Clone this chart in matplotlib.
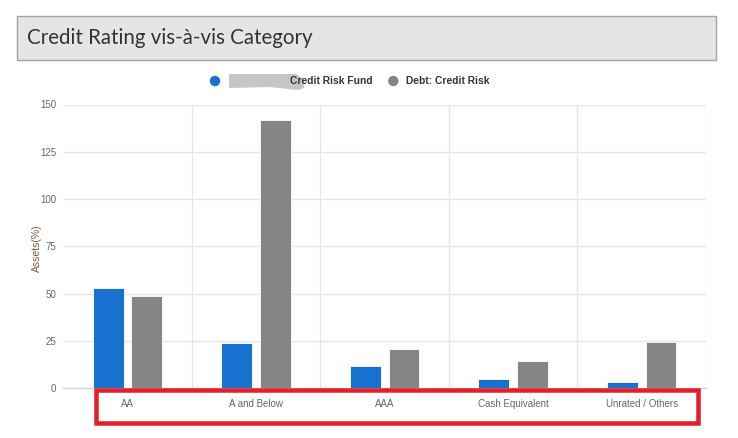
import matplotlib
matplotlib.use("Agg")
import matplotlib.pyplot as plt
from matplotlib.patches import Rectangle, Ellipse, Polygon
import numpy as np

categories = ["AA", "A and Below", "AAA", "Cash Equivalent", "Unrated / Others"]
fund_values = [53.2, 24.1, 11.8, 4.8, 3.2]
category_values = [48.8, 141.7, 20.8, 14.3, 24.6]
series_names = ["Credit Risk Fund", "Debt: Credit Risk"]
y_ticks = [0, 25, 50, 75, 100, 125, 150]
title = "Credit Rating vis-à-vis Category"
y_label = "Assets(%)"

W, H = 738, 438
fig = plt.figure(figsize=(W / 100, H / 100), dpi=100)

def fx(px):
    return px / W

def fy(py):
    return 1 - py / H

# Title box
fig.patches.append(Rectangle((fx(17), fy(59.5)), fx(716) - fx(17), fy(16) - fy(59.5),
                             transform=fig.transFigure, facecolor="#e4e5e7",
                             edgecolor="#a3a3a3", linewidth=1.0, zorder=0))
fig.text(fx(27), fy(38), title, fontsize=14.8, family="Lato", color="#333333",
         va="center", ha="left")

# Axes
left, right, top, bottom = 63.3, 706, 104.5, 388.3
ax = fig.add_axes([fx(left), fy(bottom), fx(right) - fx(left), fy(top) - fy(bottom)])
x = np.arange(len(categories))
bw = 0.24
blue = "#1871d0"
gray = "#858585"
ax.bar(x - 0.15, fund_values, bw, color=blue, edgecolor="white", linewidth=0.6, zorder=3)
ax.bar(x + 0.15, category_values, bw, color=gray, edgecolor="white", linewidth=0.6, zorder=3)
ax.set_xlim(-0.5, len(categories) - 0.5)
ax.set_ylim(0, 150)
ax.set_yticks(y_ticks)
ax.set_yticklabels([str(t) for t in y_ticks], fontsize=7.0, color="#666666", family="Liberation Sans")
ax.set_xticks(x)
ax.set_xticklabels(categories, fontsize=7.0, color="#666666", family="Liberation Sans")
ax.tick_params(axis="x", length=0, pad=8)
ax.tick_params(axis="y", length=0, pad=5)
for yv in y_ticks[1:]:
    ax.axhline(yv, color="#e6e6e6", linewidth=1.0, zorder=1)
for xb in np.arange(0.5, len(categories), 1.0):
    ax.axvline(xb, color="#e6e6e6", linewidth=1.0, zorder=1)
for s in ["top", "left", "right"]:
    ax.spines[s].set_visible(False)
ax.spines["bottom"].set_color("#ccd6eb")
ax.spines["bottom"].set_linewidth(1.0)
ax.set_ylabel(y_label, fontsize=7.5, color="#7a5848", family="Liberation Sans")
ax.yaxis.set_label_coords((42 - left) / (right - left), (bottom - 248) / (bottom - top))

# Legend
r = 5.2
fig.patches.append(Ellipse((fx(215), fy(81)), 2 * r / W, 2 * r / H, transform=fig.transFigure,
                           facecolor=blue, edgecolor="none"))
fig.patches.append(Polygon([(fx(229), fy(74)), (fx(296), fy(74)), (fx(303), fy(79)),
                            (fx(304), fy(88)), (fx(298), fy(90)), (fx(270), fy(87)),
                            (fx(229), fy(88))],
                           closed=True, transform=fig.transFigure, facecolor="#c6c6c6",
                           edgecolor="none"))
fig.text(fx(290), fy(81), series_names[0], fontsize=7.4, fontweight="bold", color="#333333",
         family="Liberation Sans", va="center", ha="left")
fig.patches.append(Ellipse((fx(393.3), fy(81)), 2 * r / W, 2 * r / H, transform=fig.transFigure,
                           facecolor=gray, edgecolor="none"))
fig.text(fx(406), fy(81), series_names[1], fontsize=7.4, fontweight="bold", color="#333333",
         family="Liberation Sans", va="center", ha="left")

# Red highlight box
lw_px = 4.5
fig.patches.append(Rectangle((fx(94 + lw_px / 2), fy(425 - lw_px / 2)),
                             fx(700 - lw_px / 2) - fx(94 + lw_px / 2),
                             fy(388 + lw_px / 2) - fy(425 - lw_px / 2),
                             transform=fig.transFigure, facecolor="none",
                             edgecolor="#e51f28", linewidth=lw_px * 72 / 100, zorder=10))

fig.savefig("out.png", dpi=100)
